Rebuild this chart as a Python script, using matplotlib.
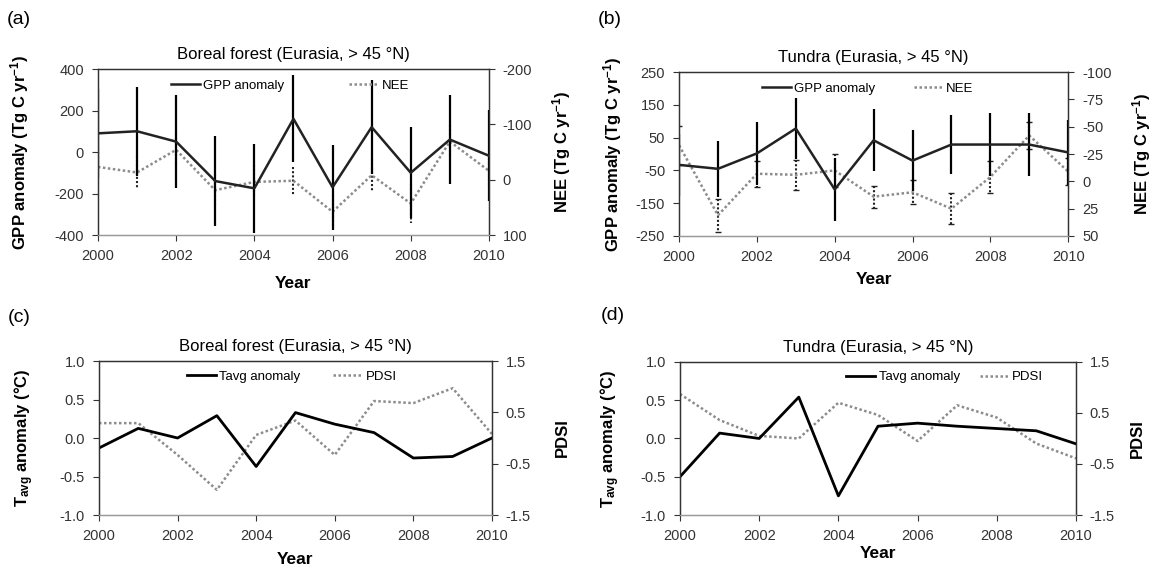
import matplotlib
matplotlib.use("Agg")
import matplotlib.pyplot as plt  # noqa: E402
from matplotlib.ticker import FormatStrFormatter  # noqa: E402

plt.rcParams.update({"font.family": "Liberation Sans", "axes.unicode_minus": False,
                     "mathtext.default": "regular", "font.size": 10.5})

years = list(range(2000, 2011))

# (a) boreal forest: GPP anomaly / NEE (Tg C yr-1)
gpp_boreal = [90, 100, 50, -140, -175, 160, -170, 120, -100, 60, -18]
gpp_boreal_err = [215, 215, 225, 218, 215, 210, 205, 225, 220, 215, 220]
nee_boreal = [-23, -13, -54, 19, 4, 2, 58, -8, 43, -69, -16]
nee_boreal_err = [35, 30, 30, 30, 30, 25, 30, 30, 35, 30, 30]

# (b) tundra
gpp_tundra = [-33, -45, 2, 78, -108, 42, -20, 29, 29, 29, 5]
gpp_tundra_err = [95, 85, 97, 92, 95, 94, 93, 90, 96, 97, 100]
nee_tundra = [-33, 31, -7, -6, -10, 14, 10, 25, -4, -42, -9]
nee_tundra_err = [18, 15, 12, 14, 15, 10, 11, 14, 15, 12, 12]

# (c), (d) Tavg anomaly (degC) and PDSI
tavg_boreal = [-0.13, 0.125, 0.0, 0.29, -0.37, 0.33, 0.18, 0.07, -0.26, -0.24, 0.0]
pdsi_boreal = [0.29, 0.29, -0.33, -1.01, 0.06, 0.34, -0.33, 0.72, 0.68, 0.97, 0.08]
tavg_tundra = [-0.5, 0.07, 0.0, 0.54, -0.75, 0.16, 0.2, 0.16, 0.13, 0.1, -0.07]
pdsi_tundra = [0.87, 0.36, 0.05, 0.0, 0.7, 0.46, -0.05, 0.65, 0.41, -0.1, -0.39]

TITLE_B = "Boreal forest (Eurasia, > 45 \u00b0N)"
TITLE_T = "Tundra (Eurasia, > 45 \u00b0N)"
FLUX = "(Tg C yr$^{-1}$)"
DOT = (0, (1, 1))
GREY = "#8c8c8c"
TXT = "#333333"


def base(fig, rect):
    ax = fig.add_axes(rect)
    ax2 = ax.twinx()
    ax.set_zorder(ax2.get_zorder() + 1)
    ax.patch.set_visible(False)
    for a in (ax, ax2):
        a.tick_params(direction="out", length=4, width=0.8, pad=6, labelsize=10.5,
                      colors=TXT)
        for s in a.spines.values():
            s.set_color("#333333")
            s.set_linewidth(0.9)
        a.spines["bottom"].set_color("#999999")
    ax.set_xlim(2000, 2010)
    ax.set_xticks(range(2000, 2011, 2))
    ax.set_xlabel("Year", fontsize=12.5, fontweight="bold")
    return ax, ax2


def legend(ax, lines, x, y, spacing):
    ax.legend(lines, [l.get_label() for l in lines], loc="center left",
              bbox_to_anchor=(x, y), ncol=2, frameon=False, fontsize=9.5,
              handlelength=2.2, handletextpad=0.25, columnspacing=spacing,
              borderpad=0, borderaxespad=0)


def flux_panel(fig, rect, gpp, gpp_err, nee, nee_err, title, glim, gticks, nlim, nticks,
               leg, lab, caps):
    ax, ax2 = base(fig, rect)
    ax2.errorbar(years, nee, yerr=nee_err, fmt="none", ecolor="#222222", elinewidth=1.5,
                 capsize=caps, capthick=1, linestyle=DOT)
    for c in ax2.containers:
        for ln in c.lines[2]:
            ln.set_linestyle(DOT)
    l2, = ax2.plot(years, nee, color=GREY, lw=1.8, linestyle=DOT, label="NEE")
    ax.errorbar(years, gpp, yerr=gpp_err, fmt="none", ecolor="black", elinewidth=1.6)
    l1, = ax.plot(years, gpp, color="#222222", lw=1.8, label="GPP anomaly")
    ax.set_ylim(*glim)
    ax.set_yticks(gticks)
    ax2.set_ylim(*nlim)
    ax2.set_yticks(nticks)
    ax.set_title(title, fontsize=12, pad=7)
    ax.set_ylabel("GPP anomaly " + FLUX, fontsize=12, fontweight="bold")
    ax2.set_ylabel("NEE " + FLUX, fontsize=12, fontweight="bold")
    ax.yaxis.set_label_coords(lab[0], 0.5)
    ax2.yaxis.set_label_coords(lab[1], 0.5)
    ax.xaxis.set_label_coords(0.5, lab[2])
    legend(ax, [l1, l2], *leg)
    return ax


def clim_panel(fig, rect, tavg, pdsi, title, leg, lab):
    ax, ax2 = base(fig, rect)
    l2, = ax2.plot(years, pdsi, color=GREY, lw=1.8, linestyle=DOT, label="PDSI")
    l1, = ax.plot(years, tavg, color="black", lw=2.0, label="Tavg anomaly")
    ax.set_ylim(-1, 1)
    ax.set_yticks([-1, -0.5, 0, 0.5, 1])
    ax.yaxis.set_major_formatter(FormatStrFormatter("%.1f"))
    ax2.set_ylim(-1.5, 1.5)
    ax2.set_yticks([-1.5, -0.5, 0.5, 1.5])
    ax2.yaxis.set_major_formatter(FormatStrFormatter("%.1f"))
    ax.set_title(title, fontsize=12, pad=7)
    ax.set_ylabel("T$_{avg}$ anomaly (\u00b0C)", fontsize=12, fontweight="bold")
    ax2.set_ylabel("PDSI", fontsize=12, fontweight="bold")
    ax.yaxis.set_label_coords(lab[0], 0.5)
    ax2.yaxis.set_label_coords(lab[1], 0.5)
    ax.xaxis.set_label_coords(0.5, lab[2])
    legend(ax, [l1, l2], *leg)
    return ax


fig = plt.figure(figsize=(11.51, 5.67), dpi=100)

flux_panel(fig, [0.0851, 0.5855, 0.3397, 0.2928], gpp_boreal, gpp_boreal_err, nee_boreal,
           nee_boreal_err, TITLE_B, (-400, 400), range(-400, 401, 200), (100, -200),
           range(-200, 101, 100), (0.187, 0.898, 4.9), (-0.172, 1.156, -0.247), 0)
flux_panel(fig, [0.590, 0.5838, 0.338, 0.289], gpp_tundra, gpp_tundra_err, nee_tundra,
           nee_tundra_err, TITLE_T, (-250, 250), range(-250, 251, 100), (50, -100),
           range(-100, 51, 25), (0.213, 0.90, 2.9), (-0.141, 1.159, -0.22), 2)
clim_panel(fig, [0.086, 0.0917, 0.3414, 0.2716], tavg_boreal, pdsi_boreal, TITLE_B,
           (0.224, 0.90, 2.5), (-0.16, 1.16, -0.24))
clim_panel(fig, [0.5908, 0.0917, 0.344, 0.27], tavg_tundra, pdsi_tundra, TITLE_T,
           (0.42, 0.90, 1.5), (-0.146, 1.136, -0.2))

for x, y, s in [(0.006, 0.965, "(a)"), (0.519, 0.965, "(b)"),
                (0.007, 0.44, "(c)"), (0.522, 0.443, "(d)")]:
    fig.text(x, y, s, fontsize=14, va="center")

fig.savefig("out.png", dpi=100)
